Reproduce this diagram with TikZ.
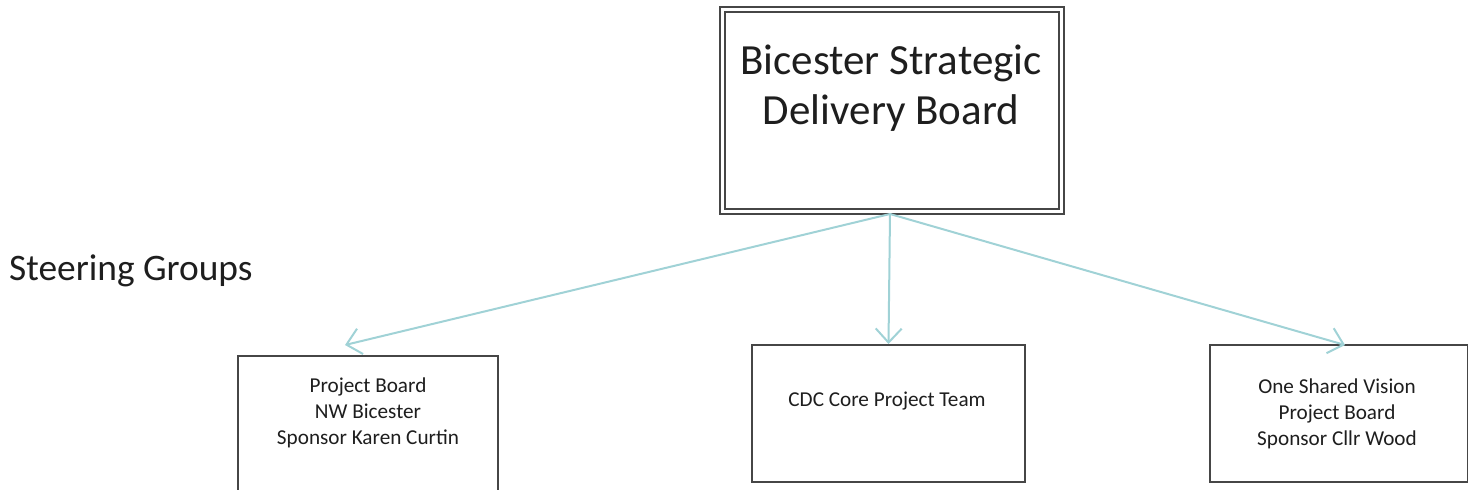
\documentclass[tikz,border=0pt]{standalone}
\usepackage{fontspec}
\setmainfont{Carlito}
\usetikzlibrary{arrows.meta}
\definecolor{linkcol}{RGB}{160,210,214}
\definecolor{boxline}{RGB}{70,70,70}
\definecolor{txt}{RGB}{30,30,30}
\tikzset{
  x=1pt, y=-1pt,
  box/.style={draw=boxline, line width=2pt, fill=white, inner sep=0pt},
  smalltxt/.style={font=\fontsize{21.2}{26}\selectfont, text=txt, align=center, inner sep=0pt},
  bigtxt/.style={font=\fontsize{43}{50}\selectfont, text=txt, align=center, inner sep=0pt},
  link/.style={draw=linkcol, line width=2pt, -{Straight Barb[length=14pt, width=26pt, line width=2pt]}}
}
\begin{document}
\begin{tikzpicture}
\useasboundingbox (0,0) rectangle (1468,490);
\clip (0,0) rectangle (1468,490);
% top box with double border
\node[draw=boxline, line width=2pt, double=white, double distance=3.5pt, fill=white,
      minimum width=339pt, minimum height=202pt, inner sep=0pt] (top) at (892,110.5) {};
\node[bigtxt] (toptxt) at (891,88) {Bicester Strategic\\Delivery Board};
% steering groups label
\node[font=\fontsize{37.4}{44}\selectfont, text=txt, anchor=west, inner sep=0pt] (steer) at (9,271) {Steering Groups};
% lower boxes
\node[box, minimum width=260pt, minimum height=150pt] (left) at (368,431) {};
\node[smalltxt] (lefttxt) at (368,413) {Project Board\\NW Bicester\\Sponsor Karen Curtin};
\node[box, minimum width=273pt, minimum height=137pt] (mid) at (888.5,413.5) {};
\node[smalltxt] (midtxt) at (887,401.5) {CDC Core Project Team};
\node[box, minimum width=258pt, minimum height=137pt] (right) at (1339,413.5) {};
\node[smalltxt] (righttxt) at (1337,413.5) {One Shared Vision\\Project Board\\Sponsor Cllr Wood};
% arrow ends
\coordinate (lend) at (345,345);
\coordinate (rend) at (1345,345);
\coordinate (start) at (890,214);
\draw[link] (start) -- (lend);
\draw[link] (start) -- (mid.north);
\draw[link] (start) -- (rend);
\end{tikzpicture}
\end{document}
